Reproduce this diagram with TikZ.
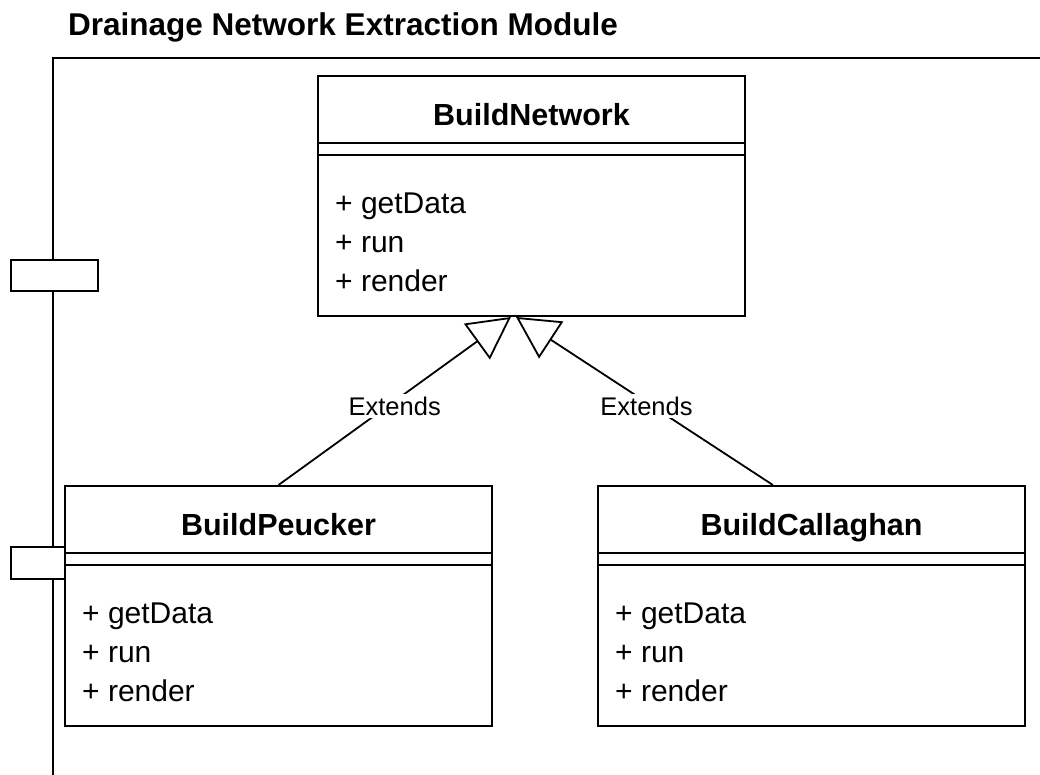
\documentclass[tikz,border=0pt]{standalone}
\usepackage{fontspec}
\setmainfont{Liberation Sans}
\usetikzlibrary{arrows.meta,calc}

\tikzset{
  frameline/.style={line width=2pt, line join=miter},
  port/.style={draw, line width=2pt, fill=white, inner sep=0pt, anchor=north west},
  classbox/.style={draw, line width=2pt, fill=white, inner sep=0pt, anchor=north west,
                   minimum width=427pt, minimum height=240pt},
  divider/.style={line width=2pt},
  classname/.style={anchor=base, inner sep=0pt, font=\fontsize{30.5}{36}\selectfont\bfseries},
  member/.style={anchor=base west, inner sep=0pt, font=\fontsize{30}{36}\selectfont},
  extends/.style={line width=1.8pt, -{Triangle[open, length=42pt, width=44pt, line width=1.8pt]}},
  lbl/.style={fill=white, inner sep=3pt, font=\fontsize{25.5}{30}\selectfont},
  title/.style={anchor=base west, inner sep=0pt, font=\fontsize{31.5}{38}\selectfont\bfseries}
}

% Draws a UML class: box, name compartment, empty attribute compartment, three operations
\newcommand{\umlclass}[4]{%
  \node[classbox] (#1) at (#2) {};
  \node[classname] (#1name) at ($(#1.north)+(0,50)$) {#3};
  \draw[divider] ($(#1.north west)+(0,68)$) -- ($(#1.north east)+(0,68)$);
  \draw[divider] ($(#1.north west)+(0,80)$) -- ($(#1.north east)+(0,80)$);
  \node[member] (#1opa) at ($(#1.north west)+(18,138)$) {+ getData};
  \node[member] (#1opb) at ($(#1.north west)+(18,177)$) {+ run};
  \node[member] (#1opc) at ($(#1.north west)+(18,216)$) {+ render};
}

\begin{document}
\begin{tikzpicture}[x=1pt, y=-1pt]
  \fill[white] (0,0) rectangle (1040,774);
  \useasboundingbox (0,0) rectangle (1040,774);

  % module title and frame
  \node[title] (modtitle) at (68,35) {Drainage Network Extraction Module};
  \coordinate (frameright) at (1045,58);
  \coordinate (framecorner) at (53,58);
  \coordinate (framebottom) at (53,780);
  \draw[frameline] (frameright) -- (framecorner) -- (framebottom);

  % ports on the frame edge
  \node[port, minimum width=87pt, minimum height=31pt] (portA) at (10,259) {};
  \node[port, minimum width=54pt, minimum height=32pt] (portB) at (10,546) {};

  % classes
  \umlclass{bn}{317,75}{BuildNetwork}{}
  \umlclass{bp}{64,485}{BuildPeucker}{}
  \umlclass{bc}{597,485}{BuildCallaghan}{}

  % generalisations
  \coordinate (bnleft)  at ($(bn.south west)!0.452!(bn.south east)$);
  \coordinate (bnright) at ($(bn.south west)!0.464!(bn.south east)$);
  \coordinate (bcstart) at ($(bc.north west)!0.41!(bc.north east)$);
  \draw[extends] (bp.north) -- node[lbl, pos=0.5, yshift=-5pt] (extA) {Extends} (bnleft);
  \draw[extends] (bcstart) -- node[lbl, pos=0.5, xshift=2pt, yshift=-5pt] (extB) {Extends} (bnright);
\end{tikzpicture}
\end{document}
